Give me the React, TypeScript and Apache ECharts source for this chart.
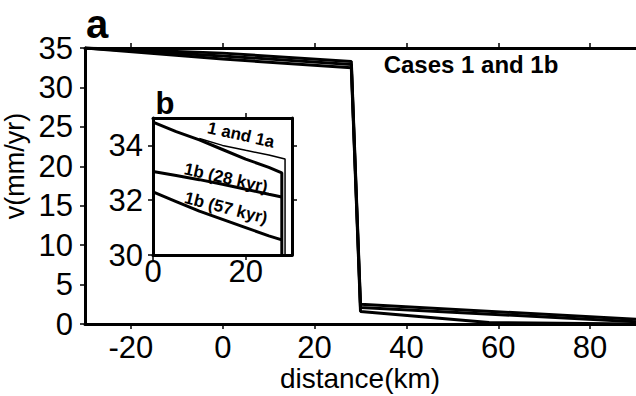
import React, { useEffect, useRef } from "react";
import * as echarts from "echarts";

// ---- main panel (a) ----
const mainXTicks = [-20, 0, 20, 40, 60, 80];
const mainYTicks = [0, 5, 10, 15, 20, 25, 30, 35];
const mainCase1 = [[-30, 35], [0, 34.35], [28, 33.3], [30, 2.5], [90, 0.6]];
const mainCase1a = [[-30, 35], [0, 34.0], [28, 32.9], [30, 2.1], [90, 0.3]];
const mainCase1b = [[-30, 35], [0, 33.6], [28, 32.5], [30, 1.6], [58, 0.2], [90, 0]];

// ---- inset panel (b) ----
const insetXTicks = [0, 20];
const insetYTicks = [30, 32, 34];
const insetCase1 = [[0, 34.85], [5, 34.5], [10, 34.2], [15, 33.85], [20, 33.5], [25, 33.2], [27.8, 33.0], [27.8, 30]];
const insetCase1a = [[10, 34.25], [15, 34.0], [20, 33.82], [25, 33.65], [28.5, 33.5], [28.5, 30]];
const insetCase1b28 = [[0, 33.05], [5, 32.9], [10, 32.75], [15, 32.58], [20, 32.4], [25, 32.22], [27.8, 32.12]];
const insetCase1b57 = [[0, 32.3], [5, 31.95], [10, 31.6], [15, 31.3], [20, 31.0], [25, 30.7], [27.8, 30.55]];

const FONT = "'Liberation Sans', Arial, Helvetica, sans-serif";

export default function App() {
  const ref = useRef<HTMLDivElement>(null);
  useEffect(() => {
    const chart = echarts.init(ref.current!, null, { renderer: "svg" });
    const axisLine = { show: true, onZero: false, lineStyle: { color: "#000", width: 3 } };
    const tick = (vals: number[]) => ({
      show: true,
      inside: false,
      length: 5,
      lineStyle: { color: "#000", width: 1.5 },
      customValues: vals,
    });
    const label = (vals: number[], margin: number) => ({
      show: true,
      color: "#000",
      fontSize: 31,
      fontFamily: FONT,
      margin,
      customValues: vals,
    });
    const line = (data: number[][], xi: number, yi: number, w = 3) => ({
      type: "line",
      data,
      xAxisIndex: xi,
      yAxisIndex: yi,
      showSymbol: false,
      symbol: "none",
      clip: true,
      lineStyle: { color: "#000", width: w },
      silent: true,
    });
    const option: any = {
      animation: false,
      backgroundColor: "#fff",
      grid: [
        { left: 85, top: 48, width: 552, height: 276 },
        { left: 153, top: 118, width: 139, height: 137 },
      ],
      xAxis: [
        {
          gridIndex: 0, type: "value", min: -30, max: 90, position: "bottom",
          axisLine, axisTick: tick(mainXTicks), axisLabel: label(mainXTicks, 8),
          splitLine: { show: false },
        },
        {
          gridIndex: 0, type: "value", min: -30, max: 90, position: "top",
          axisLine, axisTick: tick(mainXTicks), axisLabel: { show: false },
          splitLine: { show: false },
        },
        {
          gridIndex: 1, type: "value", min: 0, max: 30, position: "bottom",
          axisLine, axisTick: tick(insetXTicks), axisLabel: label(insetXTicks, 1),
          splitLine: { show: false },
        },
        {
          gridIndex: 1, type: "value", min: 0, max: 30, position: "top",
          axisLine, axisTick: tick([20]), axisLabel: { show: false },
          splitLine: { show: false },
        },
      ],
      yAxis: [
        {
          gridIndex: 0, type: "value", min: 0, max: 35, position: "left",
          axisLine, axisTick: tick(mainYTicks), axisLabel: label(mainYTicks, 12),
          splitLine: { show: false },
        },
        {
          gridIndex: 1, type: "value", min: 30, max: 35, position: "left",
          axisLine, axisTick: tick(insetYTicks), axisLabel: label(insetYTicks, 10),
          splitLine: { show: false },
        },
        {
          gridIndex: 1, type: "value", min: 30, max: 35, position: "right",
          axisLine, axisTick: tick([32, 34]), axisLabel: { show: false },
          splitLine: { show: false },
        },
      ],
      series: [
        line(mainCase1, 0, 0),
        line(mainCase1a, 0, 0),
        line(mainCase1b, 0, 0),
        line(insetCase1, 2, 1),
        line(insetCase1a, 2, 1, 1.5),
        line(insetCase1b28, 2, 1),
        line(insetCase1b57, 2, 1),
      ],
      graphic: [
        { type: "text", x: 97, y: 24, style: { text: "a", fontSize: 40, fontWeight: "bold", fontFamily: FONT, fill: "#000", align: "center", verticalAlign: "middle" } },
        { type: "text", x: 165, y: 103, style: { text: "b", fontSize: 31, fontWeight: "bold", fontFamily: FONT, fill: "#000", align: "center", verticalAlign: "middle" } },
        { type: "text", x: 471, y: 64, style: { text: "Cases 1 and 1b", fontSize: 24, fontWeight: "bold", fontFamily: FONT, fill: "#000", align: "center", verticalAlign: "middle" } },
        { type: "text", x: 241, y: 135, rotation: -0.22, style: { text: "1 and 1a", fontSize: 17, fontWeight: "bold", fontFamily: FONT, fill: "#000", align: "center", verticalAlign: "middle" } },
        { type: "text", x: 226, y: 178, rotation: -0.22, style: { text: "1b (28 kyr)", fontSize: 17, fontWeight: "bold", fontFamily: FONT, fill: "#000", align: "center", verticalAlign: "middle" } },
        { type: "text", x: 226, y: 208, rotation: -0.25, style: { text: "1b (57 kyr)", fontSize: 17, fontWeight: "bold", fontFamily: FONT, fill: "#000", align: "center", verticalAlign: "middle" } },
        { type: "text", x: 15, y: 166, rotation: Math.PI / 2, style: { text: "v(mm/yr)", fontSize: 27, fontFamily: FONT, fill: "#000", align: "center", verticalAlign: "middle" } },
        { type: "text", x: 360, y: 378, style: { text: "distance(km)", fontSize: 28, fontFamily: FONT, fill: "#000", align: "center", verticalAlign: "middle" } },
      ],
    };
    chart.setOption(option);
    return () => chart.dispose();
  }, []);
  return (
    <div
      ref={ref}
      style={{ position: "fixed", left: 0, top: 0, width: 636, height: 396, background: "#fff" }}
    />
  );
}
